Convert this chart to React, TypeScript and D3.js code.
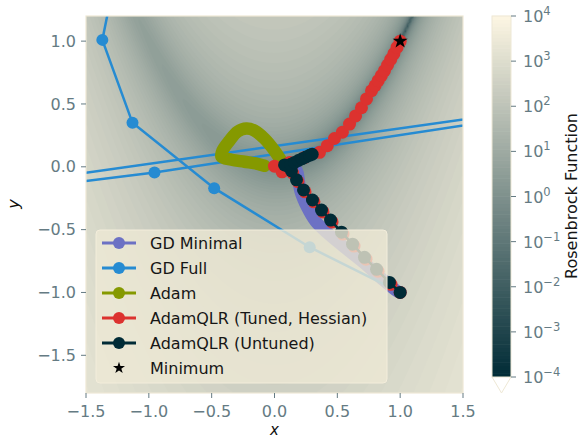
import React, { useMemo } from 'react';
import * as d3 from 'd3';

// axis ticks
const xTicks = [-1.5, -1.0, -0.5, 0.0, 0.5, 1.0, 1.5];
const yTicks = [-1.5, -1.0, -0.5, 0.0, 0.5, 1.0];
const cbarExps = [-4, -3, -2, -1, 0, 1, 2, 3, 4];

// optimiser trajectories
const gdMinimalX = [1.0, 0.979, 0.851, 0.716, 0.557, 0.414, 0.326, 0.263, 0.207, 0.183, 0.17];
const gdMinimalY = [-1.0, -0.992, -0.888, -0.768, -0.64, -0.52, -0.432, -0.328, -0.192, -0.048, -0.02];

const gdFullX = [1.0, 0.28, -0.48, -1.13, -1.37, -1.22, -30, -0.955, 5.96, -30];
const gdFullY = [-1.0, -0.64, -0.17, 0.35, 1.01, 1.75, -3.62, -0.045, 1.006, -4.075];

const adamX = [0.064, 0.0, -0.08, -0.159, -0.223, -0.294, -0.358, -0.414, -0.422, -0.342, -0.239, -0.135, -0.08];
const adamY = [0.032, 0.128, 0.224, 0.288, 0.304, 0.28, 0.208, 0.128, 0.08, 0.056, 0.04, 0.024, 0.008];

const tunedX = [1.0, 0.927, 0.824, 0.728, 0.633, 0.545, 0.458, 0.386, 0.314, 0.243, 0.187, 0.145, 0.06, 0.0, 0.12, 0.24,
  0.358, 0.42, 0.477, 0.54, 0.597, 0.645, 0.692, 0.732, 0.772, 0.8, 0.825, 0.85, 0.875, 0.9, 0.925, 0.95, 0.975, 1.0];
const tunedY = [-1.0, -0.935, -0.831, -0.735, -0.631, -0.535, -0.439, -0.359, -0.279, -0.199, -0.119, -0.05, -0.04, 0.005, 0.035, 0.075,
  0.115, 0.168, 0.225, 0.275, 0.34, 0.405, 0.47, 0.54, 0.605, 0.645, 0.685, 0.725, 0.765, 0.81, 0.855, 0.9, 0.95, 1.0];

const untunedX = [1.0, 0.915, 0.812, 0.716, 0.621, 0.533, 0.446, 0.374, 0.302, 0.231, 0.175, 0.135, 0.103, 0.08,
  0.13, 0.16, 0.19, 0.22, 0.25, 0.28, 0.3];
const untunedY = [-1.0, -0.92, -0.816, -0.72, -0.616, -0.52, -0.424, -0.344, -0.264, -0.184, -0.104, -0.032, 0.008, 0.015,
  0.02, 0.035, 0.05, 0.064, 0.078, 0.092, 0.1];

const minimumX = [1.0];
const minimumY = [1.0];

const legendNames = ['GD Minimal', 'GD Full', 'Adam', 'AdamQLR (Tuned, Hessian)', 'AdamQLR (Untuned)', 'Minimum'];
const seriesColors = ['#6c71c4', '#268bd2', '#859900', '#dc322f', '#002b36'];

const W = 586;
const H = 439;
const left = 86, top = 16, right = 463, bottom = 393;
const cbX = 492, cbW = 19, cbTop = 16, cbBottom = 377;
const font = 'DejaVu Sans, sans-serif';
const tickColor = '#657b83';

const rosen = (x: number, y: number) => (1 - x) ** 2 + 100 * (y - x * x) ** 2;
const cmap = d3.interpolateRgb('#002b36', '#fdf6e3');

const App = () => {
  const xScale = d3.scaleLinear().domain([-1.5, 1.5]).range([left, right]);
  const yScale = d3.scaleLinear().domain([-1.8, 1.2]).range([bottom, top]);
  const cScale = d3.scaleLinear().domain([-4, 4]).range([cbBottom, cbTop]);
  const levels = d3.range(-4, 4.0001, 0.08);
  const norm = (v: number) => Math.max(0, Math.min(1, (v + 4) / 8));

  const N = 160;
  const contours = useMemo(() => {
    const values = new Array(N * N);
    for (let j = 0; j < N; j++) {
      for (let i = 0; i < N; i++) {
        const x = -1.5 + ((i + 0.5) * 3) / N;
        const y = 1.2 - ((j + 0.5) * 3) / N;
        values[j * N + i] = Math.log10(Math.max(rosen(x, y), 1e-6));
      }
    }
    return d3.contours().size([N, N]).thresholds(levels)(values);
  }, []);
  const geo = d3.geoPath();

  const pts = (xs: number[], ys: number[]) => xs.map((x, i) => [x, ys[i]] as [number, number]);
  const line = d3.line<[number, number]>().x(d => xScale(d[0])).y(d => yScale(d[1]));
  const smooth = d3.line<[number, number]>().x(d => xScale(d[0])).y(d => yScale(d[1])).curve(d3.curveCatmullRom);

  const dotted = (xs: number[], ys: number[], color: string, r: number) => (
    <g>
      <path d={line(pts(xs, ys)) || ''} fill="none" stroke={color} strokeWidth={2.5} />
      {pts(xs, ys).map((p, i) => (
        <circle key={i} cx={xScale(p[0])} cy={yScale(p[1])} r={r} fill={color} />
      ))}
    </g>
  );
  const band = (xs: number[], ys: number[], color: string) => (
    <path d={smooth(pts(xs, ys)) || ''} fill="none" stroke={color} strokeWidth={12.5}
      strokeLinecap="round" strokeLinejoin="round" />
  );

  const star = d3.symbol().type(d3.symbolStar).size(70)() || '';
  const legendStar = d3.symbol().type(d3.symbolStar).size(45)() || '';

  return (
    <svg width={W} height={H} style={{ position: 'absolute', left: 0, top: 0 }} fontFamily={font}>
      <defs>
        <clipPath id="plotClip">
          <rect x={left} y={top} width={right - left} height={bottom - top} />
        </clipPath>
      </defs>

      {/* Rosenbrock surface */}
      <g clipPath="url(#plotClip)">
        <rect x={left} y={top} width={right - left} height={bottom - top} fill={cmap(0)} />
        <g transform={`translate(${left},${top}) scale(${(right - left) / N},${(bottom - top) / N})`}>
          {contours.map((c, i) => (
            <path key={i} d={geo(c as any) || ''} fill={cmap(norm(c.value + 0.04))} stroke="none" />
          ))}
        </g>

        {band(gdMinimalX, gdMinimalY, seriesColors[0])}
        {dotted(gdFullX, gdFullY, seriesColors[1], 6)}
        {band(adamX, adamY, seriesColors[2])}
        {dotted(tunedX, tunedY, seriesColors[3], 6.5)}
        {dotted(untunedX, untunedY, seriesColors[4], 6.5)}
        {pts(minimumX, minimumY).map((p, i) => (
          <path key={i} d={star} transform={`translate(${xScale(p[0])},${yScale(p[1])})`} fill="#000" />
        ))}
      </g>
      <rect x={left} y={top} width={right - left} height={bottom - top} fill="none" stroke="#eee8d5" strokeWidth={1.2} />

      {/* x axis */}
      {xTicks.map(t => (
        <g key={t} transform={`translate(${xScale(t)},${bottom})`}>
          <line y1={0} y2={5} stroke={tickColor} strokeWidth={1} />
          <text y={24} textAnchor="middle" fontSize={16} fill={tickColor}>
            {t < 0 ? '\u2212' + Math.abs(t).toFixed(1) : t.toFixed(1)}
          </text>
        </g>
      ))}
      <text x={xScale(0)} y={435} textAnchor="middle" fontSize={15} fontStyle="italic" fill="#111">x</text>

      {/* y axis */}
      {yTicks.map(t => (
        <g key={t} transform={`translate(${left},${yScale(t)})`}>
          <line x1={0} x2={-5} stroke={tickColor} strokeWidth={1} />
          <text x={-10} dy="0.35em" textAnchor="end" fontSize={16} fill={tickColor}>
            {t < 0 ? '\u2212' + Math.abs(t).toFixed(1) : t.toFixed(1)}
          </text>
        </g>
      ))}
      <text transform={`translate(19,204) rotate(-90)`} textAnchor="middle" fontSize={16} fontStyle="italic" fill="#111">y</text>

      {/* legend */}
      <g>
        <rect x={96} y={230} width={291} height={153} rx={4} fill="#eee8d5" fillOpacity={0.8} stroke="#f3eddb" strokeWidth={1} />
        {legendNames.map((name, i) => {
          const y = 243 + i * 25;
          return (
            <g key={name}>
              {i < 5 ? (
                <g>
                  <line x1={102} x2={136} y1={y} y2={y} stroke={seriesColors[i]} strokeWidth={3} />
                  <circle cx={119} cy={y} r={6} fill={seriesColors[i]} />
                </g>
              ) : (
                <path d={legendStar} transform={`translate(119,${y})`} fill="#000" />
              )}
              <text x={150} y={y} dy="0.35em" fontSize={16} fill="#161616">{name}</text>
            </g>
          );
        })}
      </g>

      {/* colour bar */}
      <g>
        {levels.slice(0, -1).map((v, i) => (
          <rect key={i} x={cbX} y={cScale(levels[i + 1]) - 0.3} width={cbW}
            height={cScale(v) - cScale(levels[i + 1]) + 0.6} fill={cmap(norm(v + 0.04))} />
        ))}
        <path d={`M${cbX},${cbBottom} L${cbX + cbW / 2},${bottom} L${cbX + cbW},${cbBottom}`} fill="#fff" stroke="#eee8d5" strokeWidth={1} />
        <rect x={cbX} y={cbTop} width={cbW} height={cbBottom - cbTop} fill="none" stroke="#eee8d5" strokeWidth={1} />
        {cbarExps.map(e => (
          <g key={e} transform={`translate(${cbX + cbW},${cScale(e)})`}>
            <line x1={0} x2={5} stroke={tickColor} strokeWidth={1} />
            <text x={12} y={6} fontSize={16} fill={tickColor}>
              10
              <tspan dy={-7} fontSize={11.5}>{e < 0 ? '\u2212' + Math.abs(e) : String(e)}</tspan>
            </text>
          </g>
        ))}
        <text transform={`translate(577,196) rotate(-90)`} textAnchor="middle" fontSize={16} fill="#161616">Rosenbrock Function</text>
      </g>
    </svg>
  );
};

export default App;
